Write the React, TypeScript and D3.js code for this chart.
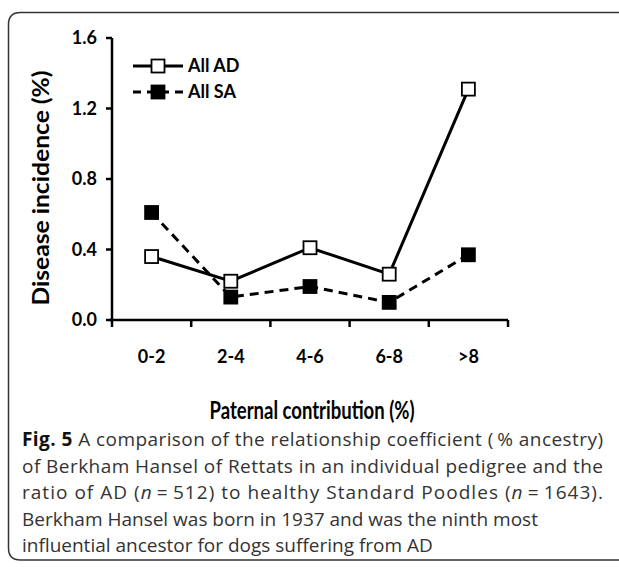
import * as d3 from "d3";

const categories = ["0-2", "2-4", "4-6", "6-8", ">8"];
const allAD = [0.36, 0.22, 0.41, 0.26, 1.31];
const allSA = [0.61, 0.13, 0.19, 0.1, 0.37];
const yTicks = [0, 0.4, 0.8, 1.2, 1.6];

const captionLines = [
  { text: "A comparison of the relationship coefficient (\u2009% ancestry)", justify: true, bold: "Fig. 5 " },
  { text: "of Berkham Hansel of Rettats in an individual pedigree and the", justify: true },
  { text: "ratio of AD (n\u2009=\u2009512) to healthy Standard Poodles (n\u2009=\u20091643).", justify: true },
  { text: "Berkham Hansel was born in 1937 and was the ninth most", justify: false },
  { text: "influential ancestor for dogs suffering from AD", justify: false },
];

const chartFont = "Lato, 'Open Sans', sans-serif";
const captionFont = "'Open Sans', 'Noto Sans', sans-serif";

function Square({ x, y, filled }: { x: number; y: number; filled: boolean }) {
  const s = 13;
  return (
    <rect
      x={x - s / 2}
      y={y - s / 2}
      width={s}
      height={s}
      fill={filled ? "#000" : "#fff"}
      stroke="#000"
      strokeWidth={1.8}
    />
  );
}

function CaptionLine({ line, y }: { line: (typeof captionLines)[number]; y: number }) {
  // italic n in the stats line
  const parts = line.text.split(/(n)(?=\u2009=)/);
  return (
    <text
      x={22}
      y={y}
      fontFamily={captionFont}
      fontSize={19}
      fill="#333"
      textLength={line.justify ? 581 : undefined}
      lengthAdjust="spacing"
    >
      {line.bold && (
        <tspan fontWeight="bold" fill="#111">
          {line.bold}
        </tspan>
      )}
      {parts.map((p, i) =>
        p === "n" ? (
          <tspan key={i} fontStyle="italic">
            n
          </tspan>
        ) : (
          <tspan key={i}>{p}</tspan>
        )
      )}
    </text>
  );
}

export default function App() {
  const width = 619;
  const height = 567;
  const left = 112;
  const right = 508;
  const top = 38;
  const bottom = 320;

  const x = d3.scaleBand<string>().domain(categories).range([left, right]).padding(0);
  const y = d3.scaleLinear().domain([0, 1.6]).range([bottom, top]);
  const cx = (c: string) => (x(c) ?? 0) + x.bandwidth() / 2;

  const line = d3
    .line<number>()
    .x((_, i) => cx(categories[i]))
    .y((d) => y(d));

  const boundaries = [...categories.map((c) => x(c) ?? 0), right];

  const r = 12;
  const border = `M ${width + 5} 12.5 L ${8.5 + r} 12.5 Q 8.5 12.5 8.5 ${12.5 + r} L 8.5 ${560 - r} Q 8.5 560 ${8.5 + r} 560 L ${width + 5} 560`;

  return (
    <svg
      width={width}
      height={height}
      style={{ position: "absolute", left: 0, top: 0, background: "#fff" }}
    >
      <path d={border} fill="none" stroke="#333" strokeWidth={1.5} />

      {/* y axis */}
      <line x1={left} x2={left} y1={top} y2={bottom} stroke="#000" strokeWidth={2.5} />
      {yTicks.map((t) => (
        <g key={t}>
          <line x1={left - 6} x2={left} y1={y(t)} y2={y(t)} stroke="#000" strokeWidth={2.5} />
          <text
            x={left - 15}
            y={y(t)}
            dy="0.35em"
            textAnchor="end"
            fontFamily={chartFont}
            fontWeight="bold"
            fontSize={18}
            fill="#000"
          >
            {t.toFixed(1)}
          </text>
        </g>
      ))}

      {/* x axis */}
      <line x1={left - 2} x2={right} y1={bottom} y2={bottom} stroke="#000" strokeWidth={2.5} />
      {boundaries.map((b, i) => (
        <line key={i} x1={b} x2={b} y1={bottom} y2={bottom + 7} stroke="#000" strokeWidth={2.5} />
      ))}
      {categories.map((c) => (
        <text
          key={c}
          x={cx(c)}
          y={357}
          dy="0.35em"
          textAnchor="middle"
          fontFamily={chartFont}
          fontWeight="bold"
          fontSize={18}
          fill="#000"
        >
          {c}
        </text>
      ))}

      {/* axis titles */}
      <text
        transform={`translate(41, 188) rotate(-90)`}
        textAnchor="middle"
        dy="0.35em"
        fontFamily={chartFont}
        fontWeight="bold"
        fontSize={22}
        textLength={235}
        lengthAdjust="spacingAndGlyphs"
        fill="#000"
      >
        Disease incidence (%)
      </text>
      <text
        x={312}
        y={411}
        dy="0.35em"
        textAnchor="middle"
        fontFamily={chartFont}
        fontWeight="bold"
        fontSize={24}
        textLength={205}
        lengthAdjust="spacingAndGlyphs"
        fill="#000"
      >
        Paternal contribution (%)
      </text>

      {/* series */}
      <path d={line(allSA) ?? ""} fill="none" stroke="#000" strokeWidth={3} strokeDasharray="9,6" />
      <path d={line(allAD) ?? ""} fill="none" stroke="#000" strokeWidth={3} />
      {allSA.map((v, i) => (
        <Square key={"sa" + i} x={cx(categories[i])} y={y(v)} filled />
      ))}
      {allAD.map((v, i) => (
        <Square key={"ad" + i} x={cx(categories[i])} y={y(v)} filled={false} />
      ))}

      {/* legend */}
      <g>
        <line x1={133} x2={183} y1={66} y2={66} stroke="#000" strokeWidth={3} />
        <Square x={158} y={66} filled={false} />
        <text x={188} y={66} dy="0.35em" fontFamily={chartFont} fontWeight="bold" fontSize={18}>
          All AD
        </text>
        <line x1={133} x2={183} y1={92} y2={92} stroke="#000" strokeWidth={3} strokeDasharray="8,6" />
        <Square x={158} y={92} filled />
        <text x={188} y={92} dy="0.35em" fontFamily={chartFont} fontWeight="bold" fontSize={18}>
          All SA
        </text>
      </g>

      {/* caption */}
      {captionLines.map((l, i) => (
        <CaptionLine key={i} line={l} y={446 + i * 26.5} />
      ))}
    </svg>
  );
}
